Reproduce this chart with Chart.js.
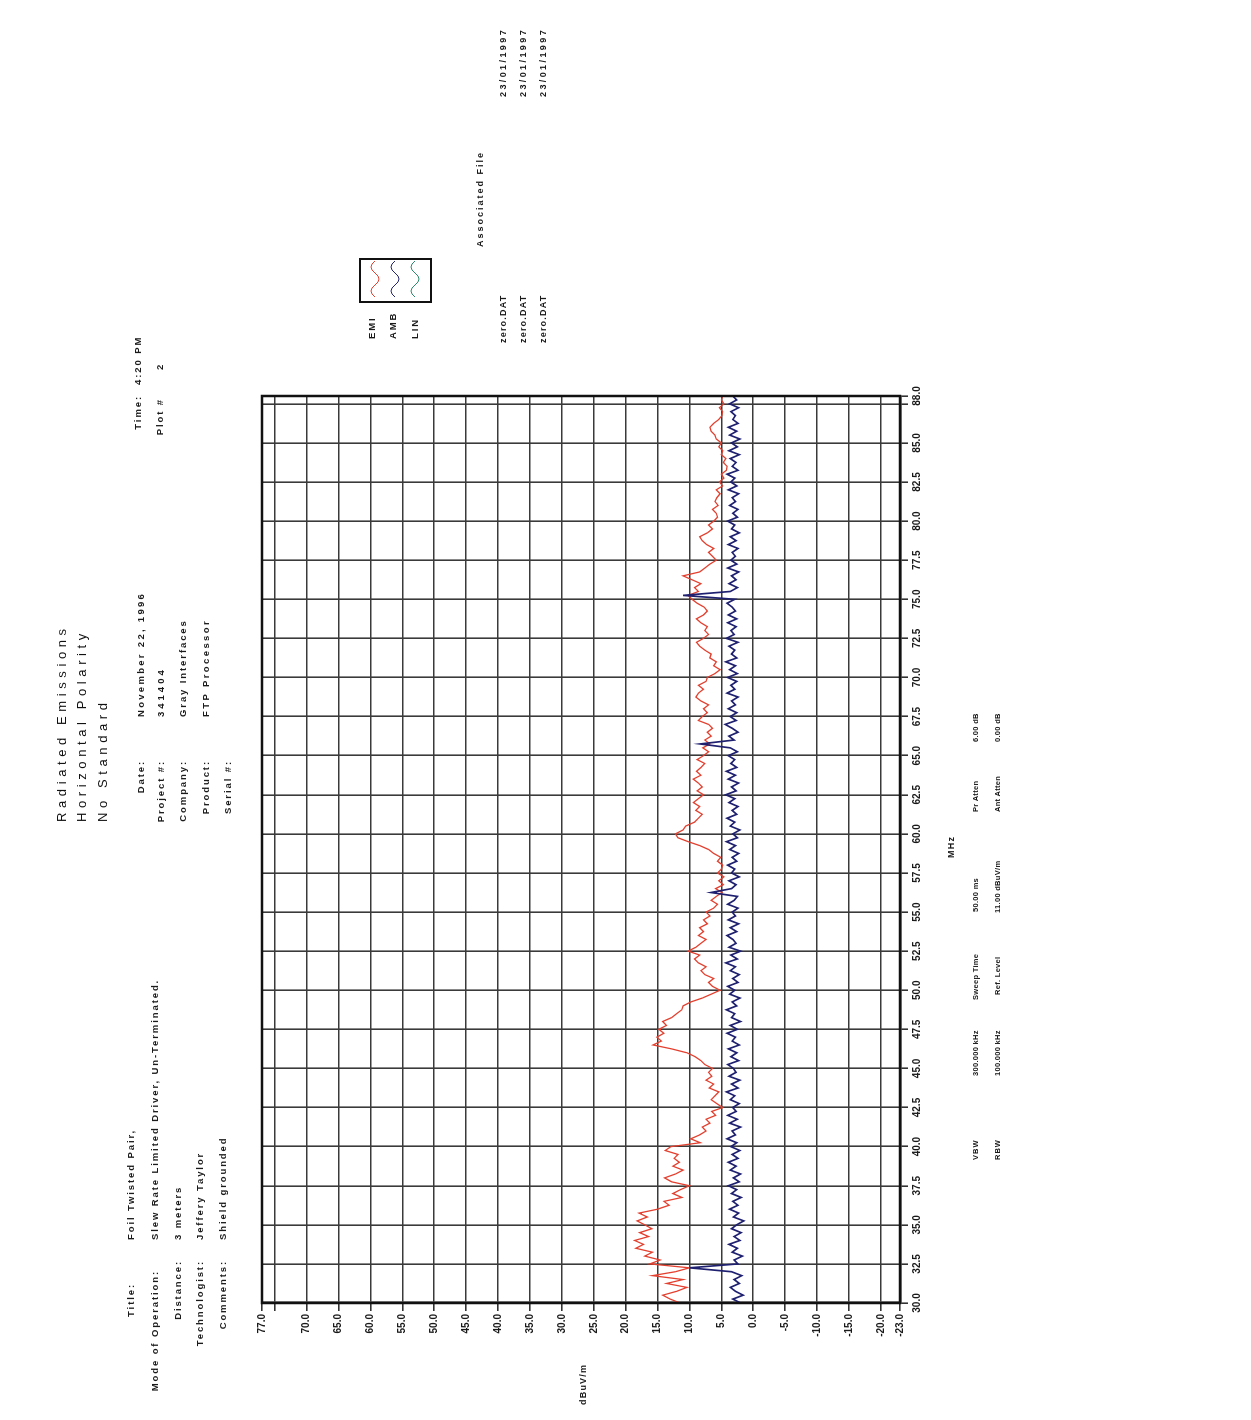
<!DOCTYPE html>
<html>
<head>
<meta charset="utf-8">
<script src="https://cdn.jsdelivr.net/npm/chart.js@4.4.1/dist/chart.umd.min.js"></script>
<style>
  html, body { margin:0; padding:0; background:#fff; width:1251px; height:1420px; overflow:hidden; }
  #page { position:absolute; left:0; top:0; width:1420px; height:1251px; transform-origin:0 0; transform:translateY(1420px) rotate(-90deg); background:#fff; }
  #c { position:absolute; left:0; top:0; }
  .t { position:absolute; font:bold 9.5px "Liberation Sans", Arial, sans-serif; letter-spacing:1.9px; line-height:10px; white-space:nowrap; color:#1a1a1a; }
  .f { position:absolute; font:bold 9px "Liberation Sans", Arial, sans-serif; letter-spacing:1.2px; line-height:10px; white-space:nowrap; color:#1a1a1a; }
  .b { position:absolute; font:bold 7.5px "Liberation Sans", Arial, sans-serif; letter-spacing:0.3px; line-height:9px; white-space:nowrap; color:#1a1a1a; }
  .r { text-align:right; }
  .h { position:absolute; font:13px "Liberation Sans", Arial, sans-serif; letter-spacing:4.6px; line-height:14px; white-space:nowrap; color:#111; }
</style>
</head>
<body>
<div id="page">
  <canvas id="c" width="1420" height="1251"></canvas>

  <div class="h" style="left:598px; top:55px;">Radiated Emissions</div>
  <div class="h" style="left:598px; top:75px;">Horizontal Polarity</div>
  <div class="h" style="left:598px; top:96px;">No Standard</div>

  <div class="t r" style="right:1283px; top:126px;">Title:</div>
  <div class="t r" style="right:1270px; top:150px;">Mode of Operation:</div>
  <div class="t r" style="right:1260px; top:173px;">Distance:</div>
  <div class="t r" style="right:1260px; top:195px;">Technologist:</div>
  <div class="t r" style="right:1260px; top:218px;">Comments:</div>
  <div class="t" style="left:180px; top:126px;">Foil Twisted Pair,</div>
  <div class="t" style="left:180px; top:150px;">Slew Rate Limited Driver, Un-Terminated.</div>
  <div class="t" style="left:180px; top:173px;">3 meters</div>
  <div class="t" style="left:180px; top:195px;">Jeffery Taylor</div>
  <div class="t" style="left:180px; top:218px;">Shield grounded</div>

  <div class="t r" style="right:760px; top:136px;">Date:</div>
  <div class="t r" style="right:760px; top:156px;">Project #:</div>
  <div class="t r" style="right:760px; top:178px;">Company:</div>
  <div class="t r" style="right:760px; top:201px;">Product:</div>
  <div class="t r" style="right:760px; top:223px;">Serial #:</div>
  <div class="t" style="left:703px; top:136px; letter-spacing:2.3px;">November 22, 1996</div>
  <div class="t" style="left:703px; top:156px; letter-spacing:3px;">341404</div>
  <div class="t" style="left:703px; top:178px;">Gray Interfaces</div>
  <div class="t" style="left:703px; top:201px; letter-spacing:2.4px;">FTP Processor</div>

  <div class="t r" style="right:395px; top:133px;">Time:</div>
  <div class="t r" style="right:398px; top:155px;">Plot #</div>
  <div class="t" style="left:1035px; top:133px;">4:20 PM</div>
  <div class="t" style="left:1050px; top:155px;">2</div>

  <div class="t" style="left:1081px; top:367px;">EMI</div>
  <div class="t" style="left:1081px; top:388px;">AMB</div>
  <div class="t" style="left:1081px; top:410px;">LIN</div>
  <svg style="position:absolute; left:1117px; top:359px;" width="45" height="73">
    <rect x="1" y="1" width="43" height="71" fill="none" stroke="#111" stroke-width="2"/>
    <path d="M6 16 Q12 8 18 16 T30 16 T42 16" fill="none" stroke="#e04030" stroke-width="1"/>
    <path d="M6 36 Q12 28 18 36 T30 36 T42 36" fill="none" stroke="#23236e" stroke-width="1"/>
    <path d="M6 56 Q12 48 18 56 T30 56 T42 56" fill="none" stroke="#2a8a6a" stroke-width="1"/>
  </svg>

  <div class="f" style="left:1173px; top:475px; letter-spacing:2px;">Associated File</div>
  <div class="f" style="left:1077px; top:498px;">zero.DAT</div>
  <div class="f" style="left:1077px; top:518px;">zero.DAT</div>
  <div class="f" style="left:1077px; top:538px;">zero.DAT</div>
  <div class="f" style="left:1323px; top:498px; letter-spacing:2.4px;">23/01/1997</div>
  <div class="f" style="left:1323px; top:518px; letter-spacing:2.4px;">23/01/1997</div>
  <div class="f" style="left:1323px; top:538px; letter-spacing:2.4px;">23/01/1997</div>

  <div class="f" style="left:15px; top:578px;">dBuV/m</div>
  <div class="f" style="left:562px; top:946px;">MHz</div>

  <div class="b" style="left:260px; top:971px; letter-spacing:1px;">VBW</div>
  <div class="b" style="left:344px; top:971px;">300.000 kHz</div>
  <div class="b" style="left:420px; top:971px;">Sweep Time</div>
  <div class="b" style="left:508px; top:971px;">50.00 ms</div>
  <div class="b" style="left:608px; top:971px;">Pr Atten</div>
  <div class="b" style="left:678px; top:971px;">6.00 dB</div>
  <div class="b" style="left:260px; top:993px; letter-spacing:1px;">RBW</div>
  <div class="b" style="left:344px; top:993px;">100.000 kHz</div>
  <div class="b" style="left:425px; top:993px;">Ref. Level</div>
  <div class="b" style="left:507px; top:993px;">11.00 dBuV/m</div>
  <div class="b" style="left:608px; top:993px;">Ant Atten</div>
  <div class="b" style="left:678px; top:993px;">0.00 dB</div>
</div>

<script>
const freqMHz = [
  30,30.25,30.5,30.75,31,31.25,31.5,31.75,32,32.25,32.5,32.75,33,33.25,33.5,33.75,
  34,34.25,34.5,34.75,35,35.25,35.5,35.75,36,36.25,36.5,36.75,37,37.25,37.5,37.75,
  38,38.25,38.5,38.75,39,39.25,39.5,39.75,40,40.25,40.5,40.75,41,41.25,41.5,41.75,
  42,42.25,42.5,42.75,43,43.25,43.5,43.75,44,44.25,44.5,44.75,45,45.25,45.5,45.75,
  46,46.25,46.5,46.75,47,47.25,47.5,47.75,48,48.25,48.5,48.75,49,49.25,49.5,49.75,
  50,50.25,50.5,50.75,51,51.25,51.5,51.75,52,52.25,52.5,52.75,53,53.25,53.5,53.75,
  54,54.25,54.5,54.75,55,55.25,55.5,55.75,56,56.25,56.5,56.75,57,57.25,57.5,57.75,
  58,58.25,58.5,58.75,59,59.25,59.5,59.75,60,60.25,60.5,60.75,61,61.25,61.5,61.75,
  62,62.25,62.5,62.75,63,63.25,63.5,63.75,64,64.25,64.5,64.75,65,65.25,65.5,65.75,
  66,66.25,66.5,66.75,67,67.25,67.5,67.75,68,68.25,68.5,68.75,69,69.25,69.5,69.75,
  70,70.25,70.5,70.75,71,71.25,71.5,71.75,72,72.25,72.5,72.75,73,73.25,73.5,73.75,
  74,74.25,74.5,74.75,75,75.25,75.5,75.75,76,76.25,76.5,76.75,77,77.25,77.5,77.75,
  78,78.25,78.5,78.75,79,79.25,79.5,79.75,80,80.25,80.5,80.75,81,81.25,81.5,81.75,
  82,82.25,82.5,82.75,83,83.25,83.5,83.75,84,84.25,84.5,84.75,85,85.25,85.5,85.75,
  86,86.25,86.5,86.75,87,87.25,87.5,87.75,88
];

const emiDb = [
  11.5,13.0,14.2,12.0, 10.4,13.6,11.0,15.8, 12.2,10.0,16.2,14.6, 17.0,15.8,18.4,17.2,
  18.6,16.4,17.8,15.9, 17.0,18.2,16.6,17.9, 15.0,13.2,14.0,11.2, 12.6,11.4,10.0,12.8,
  13.9,12.2,11.0,12.6, 11.6,12.4,11.8,13.8, 12.9,8.3,9.8,8.4, 7.4,8.0,6.8,7.4,
  5.9,6.5,4.8,5.7, 6.6,6.0,5.4,6.9, 6.2,7.4,6.5,7.0, 6.4,7.6,8.2,9.1,
  10.4,12.8,15.7,14.4, 15.1,14.0,14.8,13.6, 14.2,12.8,12.0,11.2, 11.0,9.8,8.0,6.6,
  5.2,6.4,7.0,6.2, 7.6,8.2,7.4,8.6, 9.2,8.4,10.2,9.0, 8.2,7.4,8.6,7.8,
  8.4,7.2,7.8,6.8, 7.4,6.2,5.6,6.6, 5.8,4.9,5.9,4.7, 5.4,4.6,5.6,5.0,
  4.8,5.6,5.1,6.2, 7.0,8.4,10.2,11.8, 12.2,11.0,10.6,9.2, 8.6,8.0,9.0,8.4,
  9.4,8.6,7.8,8.8, 8.0,8.6,9.4,8.2, 8.9,8.2,7.6,8.8, 7.8,7.0,7.9,6.8,
  7.6,6.6,7.2,6.4, 7.0,8.6,8.0,7.2, 7.8,7.0,8.2,9.0, 8.6,7.8,8.6,7.4,
  7.2,6.0,5.2,6.2, 5.8,6.8,6.6,7.6, 8.4,8.9,7.8,7.0, 7.6,7.2,8.2,8.9,
  7.8,7.2,7.7,8.8, 9.6,10.2,8.6,9.2, 8.2,9.6,11.0,8.4, 7.6,6.8,5.8,6.4,
  7.0,6.2,7.3,8.0, 8.4,7.2,6.4,7.0, 6.2,5.6,5.8,6.4, 5.5,6.0,5.7,5.2,
  5.8,4.8,5.3,4.6, 5.0,4.2,4.1,4.7, 4.3,5.0,4.8,5.4, 5.0,5.8,6.0,6.6,
  6.8,6.2,5.4,4.9, 4.8,5.3,4.6,5.0, 4.8
];

const ambDb = [
  2.0,3.2,1.6,2.8, 3.6,2.2,3.0,1.8, 3.4,10.0,2.4,3.0, 1.7,3.3,2.5,3.8,
  2.1,3.0,1.9,3.4, 2.6,1.5,3.1,2.3, 3.7,2.4,3.2,1.9, 3.4,2.6,3.9,2.2,
  3.1,2.0,3.6,2.7, 3.9,2.4,3.3,2.1, 3.5,2.6,4.1,2.8, 3.3,2.0,3.7,2.5,
  4.0,2.7,3.2,2.2, 3.6,2.9,4.2,2.4, 3.4,2.1,3.8,2.7, 3.1,4.0,2.3,3.5,
  2.6,3.9,2.2,3.3, 2.8,4.1,2.5,3.6, 2.0,3.4,2.9,4.2, 2.6,3.3,2.1,3.7,
  2.9,4.0,2.4,3.2, 2.2,3.6,2.8,4.3, 2.5,3.5,2.0,3.8, 2.7,3.2,4.1,2.6,
  3.6,2.3,3.9,2.8, 3.3,2.4,4.0,3.0, 2.5,6.6,3.4,2.7, 3.8,2.2,3.4,2.9,
  4.0,2.6,3.3,2.3, 3.7,2.8,4.2,2.5, 3.2,2.1,3.6,2.9, 4.1,2.6,3.3,2.4,
  3.8,2.9,4.3,2.7, 3.4,2.3,3.9,2.8, 4.2,2.6,3.5,2.9, 3.9,2.5,3.6,8.3,
  3.0,3.8,2.4,3.3, 4.4,2.7,3.6,2.6, 3.9,2.8,3.4,2.4, 4.1,2.9,3.5,2.6,
  4.0,2.5,3.7,2.8, 4.3,2.6,3.4,2.9, 3.8,2.4,4.2,3.0, 3.5,2.7,4.0,2.6,
  3.9,2.8,3.3,4.1, 2.9,11.0,3.6,2.5, 3.8,2.7,3.4,2.3, 4.0,2.6,3.5,2.8,
  3.3,2.4,3.9,2.7, 3.6,2.2,3.4,2.9, 4.0,2.5,3.2,2.4, 3.7,2.8,3.3,2.3,
  3.9,2.6,3.5,2.9, 4.1,2.4,3.3,2.7, 3.6,2.2,3.8,2.5, 3.4,2.1,3.7,2.6,
  3.9,2.4,3.2,2.8, 3.5,2.3,3.7,2.6, 3.2
];

const dbTickValues = [-23,-20,-15,-10,-5,0,5,10,15,20,25,30,35,40,45,50,55,60,65,70,75,77];
const dbTickLabels = ['-23.0','-20.0','-15.0','-10.0','-5.0','0.0','5.0','10.0','15.0','20.0','25.0','30.0','35.0','40.0','45.0','50.0','55.0','60.0','65.0','70.0','','77.0'];
const mhzTickValues = [30,32.5,35,37.5,40,42.5,45,47.5,50,52.5,55,57.5,60,62.5,65,67.5,70,72.5,75,77.5,80,82.5,85,87.5,88];
const mhzTickLabels = ['30.0','32.5','35.0','37.5','40.0','42.5','45.0','47.5','50.0','52.5','55.0','57.5','60.0','62.5','65.0','67.5','70.0','72.5','75.0','77.5','80.0','82.5','85.0','','88.0'];

const toPts = arr => arr.map((v, i) => ({ x: freqMHz[i], y: v }));

const framePlugin = {
  id: 'frame',
  afterDraw(chart) {
    const a = chart.chartArea, ctx = chart.ctx;
    ctx.save();
    ctx.strokeStyle = '#111';
    ctx.lineWidth = 2.5;
    ctx.strokeRect(a.left, a.top, a.right - a.left, a.bottom - a.top);
    ctx.restore();
  }
};

new Chart(document.getElementById('c'), {
  type: 'line',
  data: {
    datasets: [
      { label: 'EMI', data: toPts(emiDb), borderColor: '#e3402f', borderWidth: 1.3, pointRadius: 0, tension: 0, order: 2 },
      { label: 'AMB', data: toPts(ambDb), borderColor: '#1f2170', borderWidth: 1.7, pointRadius: 0, tension: 0, order: 1 }
    ]
  },
  options: {
    responsive: false,
    animation: false,
    devicePixelRatio: 1,
    layout: { padding: { left: 0, top: 262, right: 396, bottom: 311 } },
    plugins: { legend: { display: false }, tooltip: { enabled: false }, title: { display: false } },
    scales: {
      x: {
        type: 'linear', min: 30, max: 88,
        afterBuildTicks: s => { s.ticks = mhzTickValues.map(v => ({ value: v })); },
        afterFit: s => { s.height = 40; },
        ticks: {
          autoSkip: false, maxRotation: 0, minRotation: 0, padding: 3,
          color: '#1a1a1a', font: { family: 'Liberation Sans', size: 10, weight: 'bold' },
          callback: v => { const i = mhzTickValues.indexOf(v); return i >= 0 ? mhzTickLabels[i] : ''; }
        },
        grid: { color: '#3a3a3a', lineWidth: 1.6, tickLength: 8, tickColor: '#333' },
        border: { display: true, color: '#111', width: 2.5 }
      },
      y: {
        type: 'linear', min: -23, max: 77,
        afterBuildTicks: s => { s.ticks = dbTickValues.map(v => ({ value: v })); },
        afterFit: s => { s.width = 117; },
        ticks: {
          autoSkip: false, padding: 3,
          color: '#1a1a1a', font: { family: 'Liberation Sans', size: 10, weight: 'bold' },
          callback: v => { const i = dbTickValues.indexOf(v); return i >= 0 ? dbTickLabels[i] : ''; }
        },
        grid: { color: '#3a3a3a', lineWidth: 1.6, tickLength: 8, tickColor: '#333' },
        border: { display: true, color: '#111', width: 2.5 }
      }
    }
  },
  plugins: [framePlugin]
});
</script>
</body>
</html>
